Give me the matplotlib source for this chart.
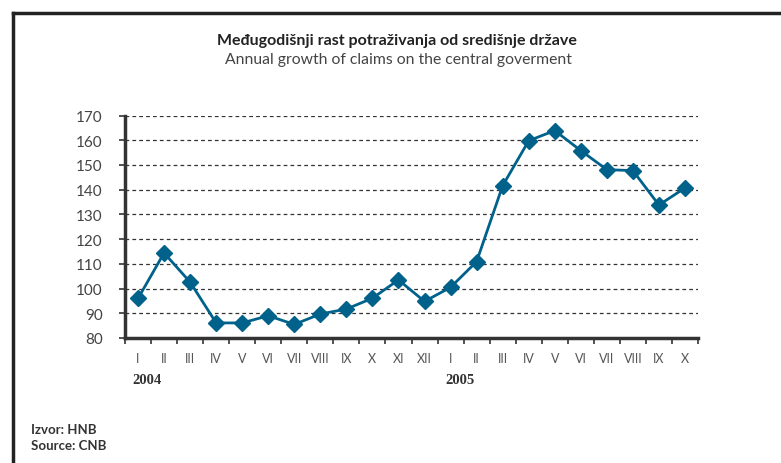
import numpy as np
import matplotlib.pyplot as plt
from matplotlib.lines import Line2D

# data -------------------------------------------------------------
months = ["I", "II", "III", "IV", "V", "VI", "VII", "VIII", "IX", "X", "XI", "XII",
          "I", "II", "III", "IV", "V", "VI", "VII", "VIII", "IX", "X"]
growth = [96.0, 114.4, 102.6, 86.1, 86.1, 89.0, 85.5, 89.7, 91.7, 96.1, 103.5, 94.8,
          100.5, 110.9, 141.6, 159.8, 163.9, 155.8, 148.1, 147.7, 133.8, 140.7]
years = ["2004", "2005"]
year_start = [0, 12]
y_ticks = [80, 90, 100, 110, 120, 130, 140, 150, 160, 170]

title_hr = "Međugodišnji rast potraživanja od središnje države"
title_en = "Annual growth of claims on the central goverment"

W, H = 781, 464
fig = plt.figure(figsize=(W / 100, H / 100), dpi=100)
plt.rcParams['font.family'] = ['Lato', 'DejaVu Sans']

# outer frame (only top and left edges visible)
fig.add_artist(Line2D([13 / W, 1.0], [1 - 14 / H, 1 - 14 / H], color="#222222", lw=2.5))
fig.add_artist(Line2D([13 / W, 13 / W], [1 - 14 / H, 0.0], color="#222222", lw=2.5))

ax = fig.add_axes([125 / W, 1 - 339 / H, (698 - 125) / W, (339 - 116.5) / H])
x = np.arange(len(growth))
ax.plot(x, growth, color="#00628b", lw=2, marker="D", markersize=8, zorder=3)

ax.set_xlim(-0.5, len(growth) - 0.5)
ax.set_ylim(80, 170)
ax.set_yticks(y_ticks)
ax.tick_params(axis="y", direction="out", length=4, width=1.2, color="#333333",
               labelsize=11, labelcolor="#444444", pad=12)
for yv in y_ticks[1:]:
    ax.axhline(yv, color="#333333", lw=0.9, ls=(0, (3, 2.5)), zorder=1)

# x: ticks at category boundaries, labels at centres
ax.set_xticks(np.arange(len(growth) + 1) - 0.5)
ax.set_xticklabels([])
ax.set_xticks(x, minor=True)
ax.set_xticklabels(months, minor=True)
ax.tick_params(axis="x", which="major", direction="out", length=4, width=1.2, color="#333333")
ax.tick_params(axis="x", which="minor", length=0, labelsize=9, labelcolor="#555555", pad=10)

for s in ["top", "right"]:
    ax.spines[s].set_visible(False)
for s in ["left", "bottom"]:
    ax.spines[s].set_linewidth(2.5)
    ax.spines[s].set_color("#333333")

for yr, i0 in zip(years, year_start):
    ax.annotate(yr, xy=(i0 - 0.2, 0), xycoords=("data", "axes fraction"),
                xytext=(0, -25), textcoords="offset points", ha="left", va="top",
                fontsize=10.5, fontweight="bold", color="#333333", family="Liberation Serif")

fig.text(397 / W, 1 - 41 / H, title_hr, ha="center", va="center",
         fontsize=11.5, fontweight="bold", color="#222222")
fig.text(398 / W, 1 - 60 / H, title_en, ha="center", va="center",
         fontsize=11.3, color="#444444")

fig.text(31 / W, 1 - 430 / H, "Izvor: HNB", ha="left", va="center",
         fontsize=9.5, fontweight="bold", color="#333333")
fig.text(31 / W, 1 - 446 / H, "Source: CNB", ha="left", va="center",
         fontsize=9.5, fontweight="bold", color="#333333")

fig.savefig("out.png", dpi=100)
